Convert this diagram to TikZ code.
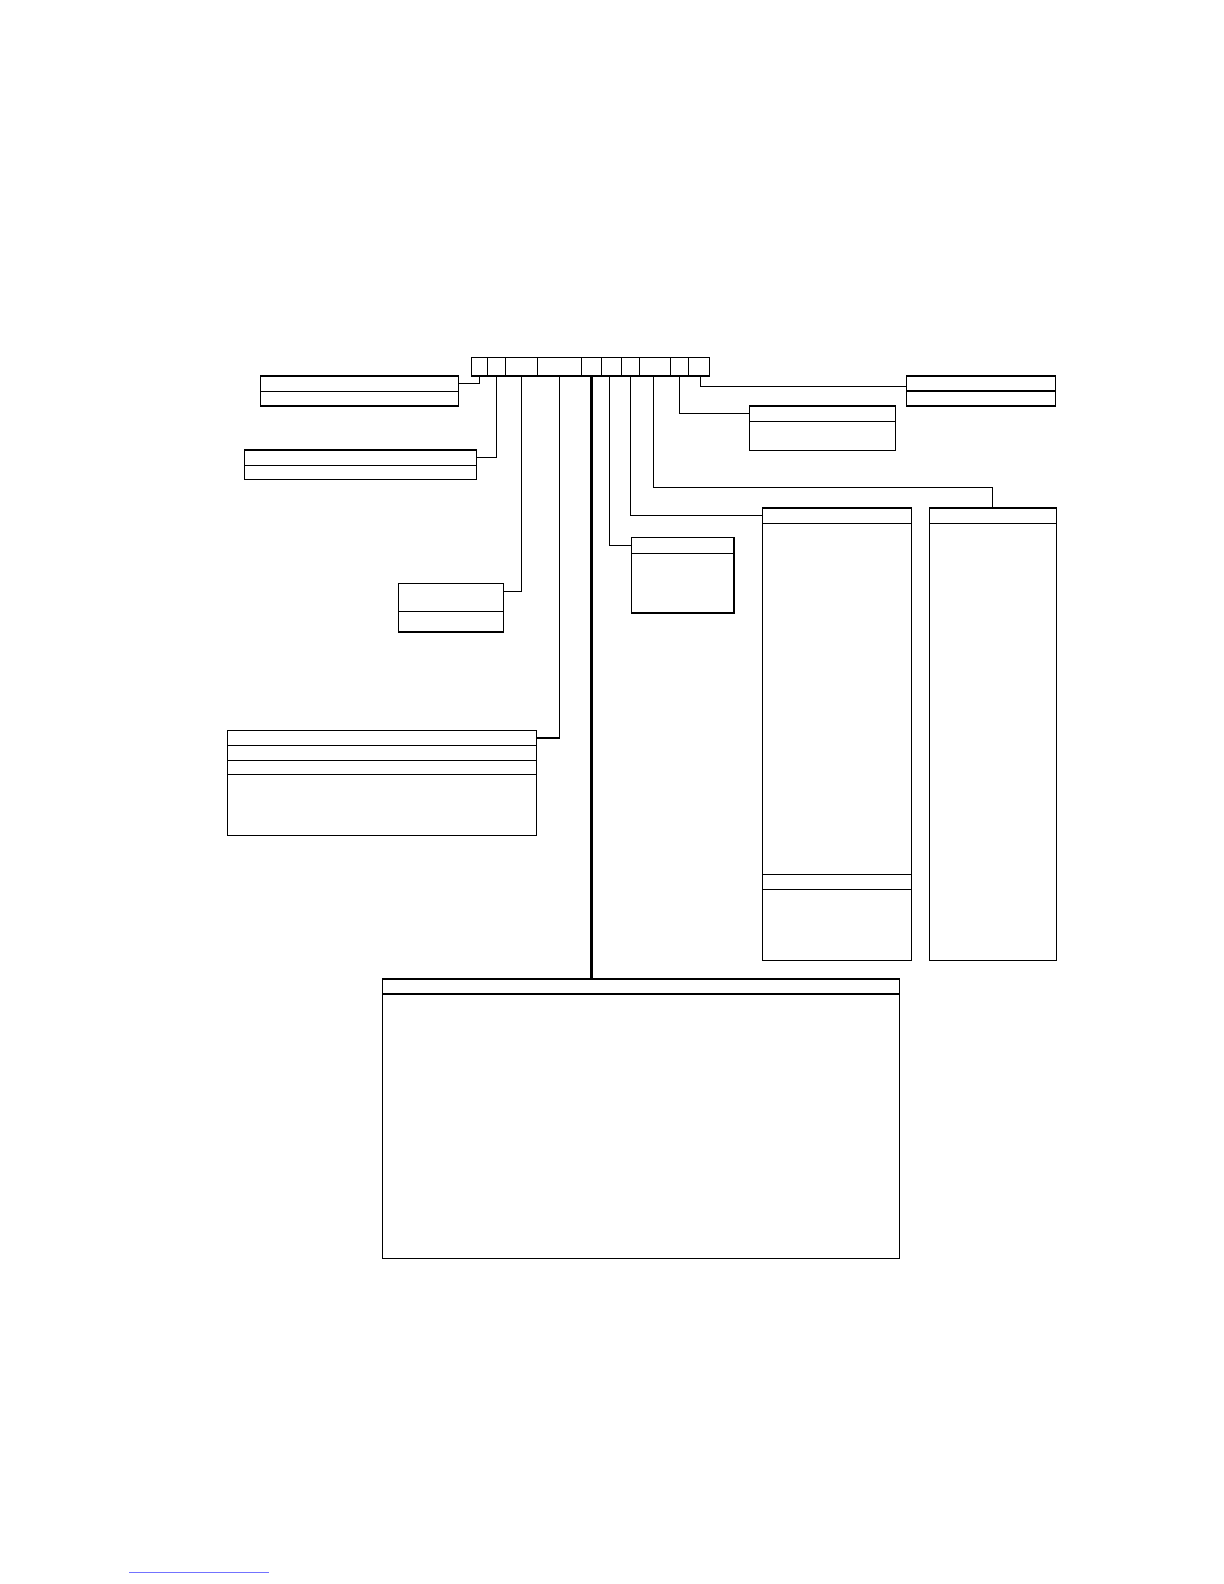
\documentclass[tikz,border=0pt]{standalone}
\usepackage{tikz}
\usetikzlibrary{positioning}

\begin{document}
\begin{tikzpicture}[x=0.5pt,y=-0.5pt,line width=0.6pt,
		cell/.style={draw, inner sep=0pt, outer sep=0pt, minimum height=9.35pt},
		box/.style={draw, inner sep=0pt, outer sep=0pt, anchor=north west},
		part/.style={draw, inner sep=0pt, outer sep=0pt}]
		\useasboundingbox (0,0) rectangle (1224,1584);
		
		% top bar
		\node[cell, anchor=north west, minimum width=8.2pt] (c1) at (471.3,357.3) {};
		\node[cell, right=0pt of c1, minimum width=8.8pt] (c2) {};
		\node[cell, right=0pt of c2, minimum width=16pt] (c3) {};
		\node[cell, right=0pt of c3, minimum width=22.2pt] (c4) {};
		\node[cell, right=0pt of c4, minimum width=9.8pt] (c5) {};
		\node[cell, right=0pt of c5, minimum width=10pt] (c6) {};
		\node[cell, right=0pt of c6, minimum width=9pt] (c7) {};
		\node[cell, right=0pt of c7, minimum width=15.5pt] (c8) {};
		\node[cell, right=0pt of c8, minimum width=9.2pt] (c9) {};
		\node[cell, right=0pt of c9, minimum width=10.3pt] (c10) {};
		
		% left side
		\node[box, minimum width=98.8pt, minimum height=7.65pt] (aT) at (260.7,376) {};
		\node[part, below=0pt of aT, minimum width=98.8pt, minimum height=7.35pt] (aB) {};
		
		\node[box, minimum width=116pt, minimum height=7.65pt] (bT) at (244.3,450) {};
		\node[part, below=0pt of bT, minimum width=116pt, minimum height=7pt] (bB) {};
		
		\node[box, minimum width=52.7pt, minimum height=14pt] (cT) at (398.3,583.3) {};
		\node[part, below=0pt of cT, minimum width=52.7pt, minimum height=10.35pt] (cB) {};
		
		\node[box, minimum width=154.5pt, minimum height=7.3pt] (dT) at (227.3,730.7) {};
		\node[part, below=0pt of dT, minimum width=154.5pt, minimum height=7.5pt] (d2) {};
		\node[part, below=0pt of d2, minimum width=154.5pt, minimum height=7pt] (d3) {};
		\node[part, below=0pt of d3, minimum width=154.5pt, minimum height=30.5pt] (dB) {};
		
		% right side
		\node[box, minimum width=51.35pt, minimum height=8pt] (eT) at (631.3,537.3) {};
		\node[part, below=0pt of eT, minimum width=51.35pt, minimum height=29.85pt] (eB) {};
		
		\node[box, minimum width=72.8pt, minimum height=7.65pt] (fT) at (749.7,406) {};
		\node[part, below=0pt of fT, minimum width=72.8pt, minimum height=14.5pt] (fB) {};
		
		\node[box, minimum width=74.5pt, minimum height=7.5pt] (gT) at (906.3,376) {};
		\node[part, below=0pt of gT, minimum width=74.5pt, minimum height=7.5pt] (gB) {};
		
		\node[box, minimum width=74.5pt, minimum height=7.65pt] (hT) at (762.3,508) {};
		\node[part, below=0pt of hT, minimum width=74.5pt, minimum height=175.5pt] (hB) {};
		\node[part, below=0pt of hB, minimum width=74.5pt, minimum height=7.5pt] (h3) {};
		\node[part, below=0pt of h3, minimum width=74.5pt, minimum height=35.5pt] (h4) {};
		
		\node[box, minimum width=63.5pt, minimum height=7.65pt] (iT) at (929.3,508) {};
		\node[part, below=0pt of iT, minimum width=63.5pt, minimum height=218.5pt] (iB) {};
		
		% bottom
		\node[box, minimum width=258.4pt, minimum height=7.5pt] (jT) at (382.5,979) {};
		\node[part, below=0pt of jT, minimum width=258.4pt, minimum height=132.3pt] (jB) {};
		
		% connectors
		\draw (c1.south) |- (aT.east);
		\draw (c2.south) |- (bT.east);
		\draw (c3.south) |- ([yshift=3pt]cT.east);
		\draw (c4.south) |- (dT.east);
		\draw[line width=1.4pt] (c5.south) -- (c5.south |- jT.north);
		\draw ([xshift=-1pt]c6.south) |- (eT.west);
		\draw (c7.south) |- (hT.west);
		\draw ([xshift=-0.7pt]c8.south) -- ++(0,111.3) -| (iT.north);
		\draw (c9.south) |- (fT.west);
		\draw ([xshift=0.6pt]c10.south) |- ([yshift=-1.6pt]gT.west);
		
		\draw[blue!55, line width=0.4pt] (129,1572) -- (269,1572);
		
\end{tikzpicture}
\end{document}
